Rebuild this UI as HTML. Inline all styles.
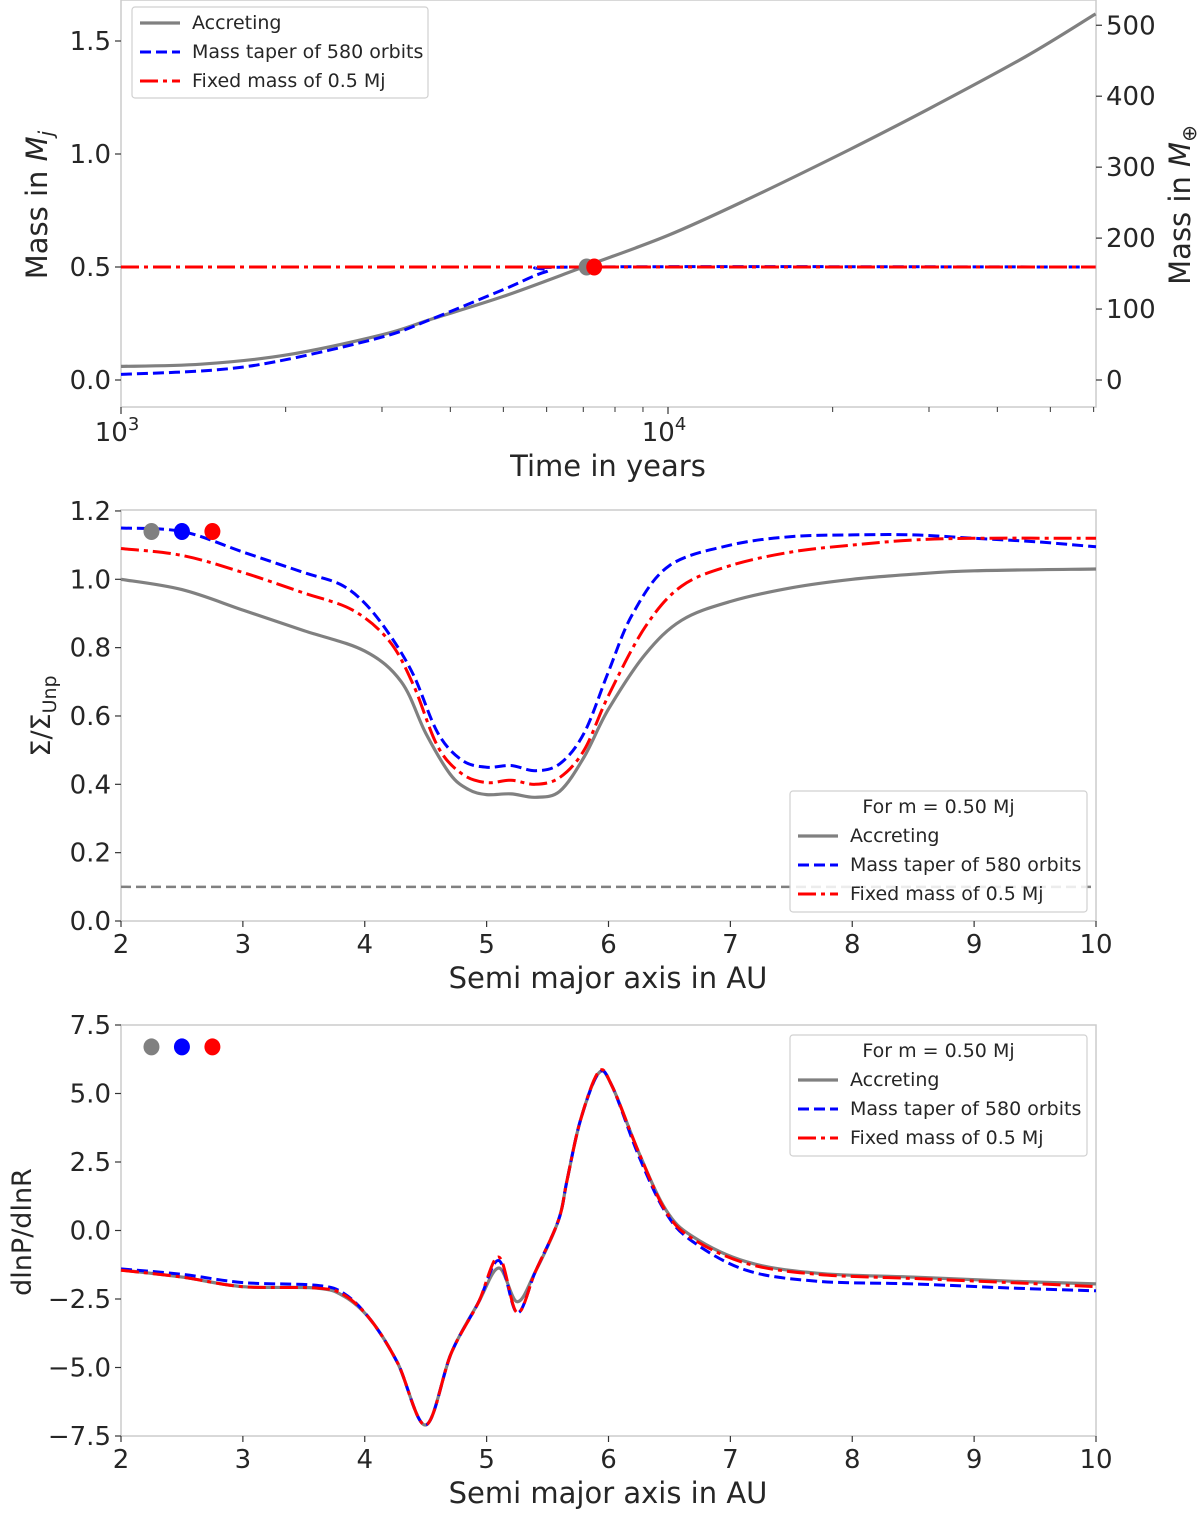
<!DOCTYPE html>
<html><head><meta charset="utf-8">
<style>
html,body{margin:0;padding:0;background:#fff;}
svg{display:block;font-family:"DejaVu Sans","Liberation Sans",sans-serif;}
</style></head>
<body>
<svg id="fig" width="1200" height="1516" viewBox="0 0 1200 1516" xmlns="http://www.w3.org/2000/svg"></svg>
<script>
// ---------- Panel 1 data (mass vs time) ----------
const p1TimeAcc = [1000,1400,2000,3000,3700,5000,7000,10000,14000,21500,30000,45000,60500];
const p1MassAcc = [0.06,0.07,0.11,0.20,0.27,0.37,0.50,0.64,0.80,1.02,1.20,1.43,1.62];
const p1TimeTaper = [1000,1500,2000,3000,3700,5000,6000,7000,60500];
const p1MassTaper = [0.025,0.045,0.09,0.19,0.27,0.40,0.48,0.50,0.50];
const p1TimeFixed = [1000,60500];
const p1MassFixed = [0.5,0.5];
const p1Dots = [[7100,0.5,'#808080'],[7330,0.5,'#ff0000']];
const p1YTicks = [0.0,0.5,1.0,1.5];
const p1YTickLabels = ['0.0','0.5','1.0','1.5'];
const p1RTicks = [0,100,200,300,400,500];

// ---------- Panel 2 data (surface density) ----------
const p2AAcc = [2,2.5,3,3.5,4,4.3,4.5,4.7,4.85,5,5.2,5.4,5.6,5.8,6,6.3,6.6,7,7.5,8,8.5,9,10];
const p2SAcc = [1.0,0.97,0.91,0.85,0.79,0.70,0.55,0.43,0.385,0.37,0.372,0.362,0.38,0.48,0.62,0.78,0.88,0.935,0.975,1.0,1.015,1.025,1.03];
const p2ATaper = [2,2.5,3,3.5,3.8,4,4.2,4.4,4.6,4.8,5,5.2,5.4,5.6,5.8,6,6.2,6.5,7,7.5,8,8.5,9,9.5,10];
const p2STaper = [1.15,1.14,1.08,1.02,0.985,0.93,0.84,0.72,0.55,0.47,0.45,0.455,0.44,0.46,0.55,0.73,0.90,1.04,1.10,1.125,1.13,1.13,1.12,1.11,1.095];
const p2AFixed = [2,2.5,3,3.5,3.9,4.2,4.4,4.6,4.8,5,5.2,5.4,5.6,5.8,6,6.3,6.6,7,7.5,8,8.5,9,10];
const p2SFixed = [1.09,1.07,1.02,0.96,0.91,0.82,0.69,0.51,0.43,0.405,0.412,0.40,0.42,0.50,0.66,0.86,0.98,1.04,1.08,1.10,1.115,1.12,1.12];
const p2Dots = [[2.25,1.14,'#808080'],[2.5,1.14,'#0000ff'],[2.75,1.14,'#ff0000']];
const p2YTicks = [0,0.2,0.4,0.6,0.8,1.0,1.2];
const p2YTickLabels = ['0.0','0.2','0.4','0.6','0.8','1.0','1.2'];
const p2Threshold = 0.1;

// ---------- Panel 3 data (pressure gradient) ----------
const p3AAcc = [2,2.5,3,3.6,3.83,4.05,4.27,4.5,4.71,4.93,5.1,5.25,5.4,5.59,5.66,5.77,5.92,6.03,6.25,6.47,6.69,7.13,7.71,8.5,9.3,10];
const p3GAcc = [-1.44,-1.7,-2.05,-2.1,-2.4,-3.27,-4.84,-7.1,-4.47,-2.65,-1.37,-2.6,-1.5,0.38,1.84,4.03,5.75,5.26,2.83,0.76,-0.22,-1.14,-1.56,-1.7,-1.85,-1.95];
const p3ATaper = [2,2.5,3,3.6,3.83,4.05,4.27,4.5,4.71,4.93,5.1,5.25,5.4,5.59,5.66,5.77,5.92,6.03,6.25,6.47,6.69,7.13,7.71,8.5,9.3,10];
const p3GTaper = [-1.4,-1.6,-1.9,-2.0,-2.3,-3.27,-4.84,-7.1,-4.47,-2.65,-1.1,-3.0,-1.5,0.38,1.84,4.03,5.75,5.26,2.7,0.65,-0.4,-1.45,-1.85,-1.95,-2.1,-2.2];
const p3AFixed = [2,2.5,3,3.6,3.83,4.05,4.27,4.5,4.71,4.93,5.1,5.25,5.4,5.59,5.66,5.77,5.92,6.03,6.25,6.47,6.69,7.13,7.71,8.5,9.3,10];
const p3GFixed = [-1.45,-1.7,-2.05,-2.1,-2.35,-3.27,-4.84,-7.1,-4.47,-2.65,-0.97,-3.0,-1.5,0.38,1.84,4.03,5.8,5.26,2.83,0.7,-0.3,-1.2,-1.6,-1.75,-1.9,-2.05];
const p3Dots = [[2.25,6.7,'#808080'],[2.5,6.7,'#0000ff'],[2.75,6.7,'#ff0000']];
const p3YTicks = [-7.5,-5,-2.5,0,2.5,5,7.5];
const p3YTickLabels = ['\u22127.5','\u22125.0','\u22122.5','0.0','2.5','5.0','7.5'];

const auTicks = [2,3,4,5,6,7,8,9,10];

const NS = 'http://www.w3.org/2000/svg';
const fig = document.getElementById('fig');
function mk(tag, attrs, parent, text){
  const e = document.createElementNS(NS, tag);
  for (const k in attrs) e.setAttribute(k, attrs[k]);
  if (text !== undefined) e.textContent = text;
  (parent||fig).appendChild(e);
  return e;
}
function spline(pts){
  let d = 'M' + pts[0][0].toFixed(1) + ',' + pts[0][1].toFixed(1);
  for (let i=0;i<pts.length-1;i++){
    const p0 = pts[i-1]||pts[i], p1=pts[i], p2=pts[i+1], p3=pts[i+2]||p2;
    const c1=[p1[0]+(p2[0]-p0[0])/6, p1[1]+(p2[1]-p0[1])/6];
    const c2=[p2[0]-(p3[0]-p1[0])/6, p2[1]-(p3[1]-p1[1])/6];
    d += 'C'+c1[0].toFixed(1)+','+c1[1].toFixed(1)+' '+c2[0].toFixed(1)+','+c2[1].toFixed(1)+' '+p2[0].toFixed(1)+','+p2[1].toFixed(1);
  }
  return d;
}
const STY = {
  acc:{stroke:'#808080','stroke-width':3.2,fill:'none'},
  taper:{stroke:'#0000ff','stroke-width':3,fill:'none','stroke-dasharray':'11,5'},
  fixed:{stroke:'#ff0000','stroke-width':3,fill:'none','stroke-dasharray':'18,5,4,5'}
};
function series(xs, ys, fx, fy, sty, name, g){
  const pts = xs.map((x,i)=>[fx(x), fy(ys[i])]);
  const p = mk('path', Object.assign({d:spline(pts)}, sty), g);
  
  
}
function frame(L,T,R,B,name){
  const r = mk('rect',{x:L,y:T,width:R-L,height:B-T,fill:'none',stroke:'#cccccc','stroke-width':1.5});
  
  
}
function ytick(L, y, label, name){
  mk('line',{x1:L-6,y1:y,x2:L,y2:y,stroke:'#333','stroke-width':1.2});
  const t = mk('text',{x:L-10,y:y+9,'text-anchor':'end','font-size':26,fill:'#262626'},fig,label);
  
  
}
function xtick(x, B, label, name, len){
  mk('line',{x1:x,y1:B,x2:x,y2:B+(len||6),stroke:'#333','stroke-width':1.2});
  if (label!==null){
    const t = mk('text',{x:x,y:B+32,'text-anchor':'middle','font-size':26,fill:'#262626'},fig,label);
    
    
  }
}
function legend(x,y,w,h,title,name){
  const g = mk('g',{});
  
  
  mk('rect',{x:x,y:y,width:w,height:h,rx:3,fill:'#fff','fill-opacity':0.85,stroke:'#d0d0d0','stroke-width':1.2},g);
  let yy = y + 22;
  if (title){
    const t = mk('text',{x:x+w/2,y:yy,'text-anchor':'middle','font-size':19,fill:'#262626'},g,title);
    
    
    yy += 29;
  }
  const ents = [['acc','Accreting'],['taper','Mass taper of 580 orbits'],['fixed','Fixed mass of 0.5 Mj']];
  ents.forEach(([k,lab])=>{
    const e = mk('g',{},g);
    
    
    mk('line',Object.assign({x1:x+8,y1:yy-6,x2:x+48,y2:yy-6},STY[k]),e);
    mk('text',{x:x+60,y:yy,'font-size':19,fill:'#262626'},e,lab);
    yy += 29;
  });
}
function dot(cx,cy,c,name){
  const d = mk('ellipse',{cx:cx,cy:cy,rx:8,ry:8.5,fill:c});
  
  
}

// ===== Panel 1 =====
(function(){
  const L=121,R=1096,T=0,B=407;
  const fx = t => L + Math.log10(t/1000)*547;
  const fy = m => 380 - m*226;
  const fyE = e => 380 - e*0.7095;
  frame(L,T,R,B,'panel1-axes');
  const g = mk('g',{});  
  series(p1TimeAcc,p1MassAcc,fx,fy,STY.acc,'accreting-mass-line',g);
  series(p1TimeTaper,p1MassTaper,fx,fy,STY.taper,'taper-mass-line',g);
  const fp = mk('line',Object.assign({x1:fx(p1TimeFixed[0]),y1:fy(p1MassFixed[0]),x2:fx(p1TimeFixed[1]),y2:fy(p1MassFixed[1])},STY.fixed),g);
   
  p1Dots.forEach((d,i)=>dot(fx(d[0]),fy(d[1]),d[2],'panel1-dot-'+i));
  p1YTicks.forEach((v,i)=>ytick(L,fy(v),p1YTickLabels[i],'panel1-ytick-label'));
  p1RTicks.forEach(v=>{
    const y=fyE(v);
    mk('line',{x1:R,y1:y,x2:R+6,y2:y,stroke:'#333','stroke-width':1.2});
    const t=mk('text',{x:R+10,y:y+9,'font-size':26,fill:'#262626'},fig,String(v));
     
  });
  [1000,10000].forEach(v=>{
    const x=fx(v);
    mk('line',{x1:x,y1:B,x2:x,y2:B+7,stroke:'#333','stroke-width':1.2});
    const t=mk('text',{x:x-4,y:B+34,'text-anchor':'middle','font-size':26,fill:'#262626'},fig);
     
    t.appendChild(document.createTextNode('10'));
    const s=document.createElementNS(NS,'tspan'); s.setAttribute('dy','-11'); s.setAttribute('font-size','18'); s.textContent=v===1000?'3':'4'; t.appendChild(s);
  });
  [2000,3000,4000,5000,6000,7000,8000,9000,20000,30000,40000,50000,60000].forEach(v=>{
    const x=fx(v); mk('line',{x1:x,y1:B,x2:x,y2:B+5,stroke:'#333','stroke-width':1});
  });
  let t=mk('text',{x:608,y:476,'text-anchor':'middle','font-size':29,fill:'#262626'},fig,'Time in years');
   
  t=mk('text',{transform:'translate(47,205) rotate(-90)','text-anchor':'middle','font-size':29,fill:'#262626'},fig);
   
  t.appendChild(document.createTextNode('Mass in '));
  let s=document.createElementNS(NS,'tspan'); s.setAttribute('font-style','italic'); s.textContent='M'; t.appendChild(s);
  s=document.createElementNS(NS,'tspan'); s.setAttribute('font-style','italic'); s.setAttribute('font-size','20'); s.setAttribute('dy','6'); s.textContent='j'; t.appendChild(s);
  t=mk('text',{transform:'translate(1190,205) rotate(-90)','text-anchor':'middle','font-size':29,fill:'#262626'},fig);
   
  t.appendChild(document.createTextNode('Mass in '));
  s=document.createElementNS(NS,'tspan'); s.setAttribute('font-style','italic'); s.textContent='M'; t.appendChild(s);
  s=document.createElementNS(NS,'tspan'); s.setAttribute('font-size','20'); s.setAttribute('dy','6'); s.textContent='\u2295'; t.appendChild(s);
  legend(132,7,296,91,null,'panel1-legend');
})();

// ===== Panel 2 =====
(function(){
  const L=121,R=1096,T=510,B=921;
  const fx = a => L + (a-2)*121.875;
  const fy = v => B - v*341.7;
  frame(L,T,R,B,'panel2-axes');
  const th = mk('line',{x1:L,y1:fy(p2Threshold),x2:R,y2:fy(p2Threshold),stroke:'#808080','stroke-width':2.5,'stroke-dasharray':'10,5'});
   
  const g = mk('g',{});  
  series(p2AAcc,p2SAcc,fx,fy,STY.acc,'accreting-density-line',g);
  series(p2ATaper,p2STaper,fx,fy,STY.taper,'taper-density-line',g);
  series(p2AFixed,p2SFixed,fx,fy,STY.fixed,'fixed-density-line',g);
  p2Dots.forEach((d,i)=>dot(fx(d[0]),fy(d[1]),d[2],'panel2-dot-'+i));
  p2YTicks.forEach((v,i)=>ytick(L,fy(v),p2YTickLabels[i],'panel2-ytick-label'));
  auTicks.forEach(v=>xtick(fx(v),B,String(v),'panel2-xtick-label'));
  let t=mk('text',{x:608,y:988,'text-anchor':'middle','font-size':29,fill:'#262626'},fig,'Semi major axis in AU');
   
  t=mk('text',{transform:'translate(50,716) rotate(-90)','text-anchor':'middle','font-size':27,fill:'#262626'},fig);
   
  t.appendChild(document.createTextNode('\u03a3/\u03a3'));
  const s=document.createElementNS(NS,'tspan'); s.setAttribute('font-size','19'); s.setAttribute('dy','6'); s.textContent='Unp'; t.appendChild(s);
  legend(790,791,297,121,'For m = 0.50 Mj','panel2-legend');
})();

// ===== Panel 3 =====
(function(){
  const L=121,R=1096,T=1025,B=1436;
  const fx = a => L + (a-2)*121.875;
  const fy = v => 1230.5 - v*27.4;
  frame(L,T,R,B,'panel3-axes');
  const g = mk('g',{});  
  series(p3AAcc,p3GAcc,fx,fy,STY.acc,'accreting-gradient-line',g);
  series(p3ATaper,p3GTaper,fx,fy,STY.taper,'taper-gradient-line',g);
  series(p3AFixed,p3GFixed,fx,fy,STY.fixed,'fixed-gradient-line',g);
  p3Dots.forEach((d,i)=>dot(fx(d[0]),fy(d[1]),d[2],'panel3-dot-'+i));
  p3YTicks.forEach((v,i)=>ytick(L,fy(v),p3YTickLabels[i],'panel3-ytick-label'));
  auTicks.forEach(v=>xtick(fx(v),B,String(v),'panel3-xtick-label'));
  let t=mk('text',{x:608,y:1503,'text-anchor':'middle','font-size':29,fill:'#262626'},fig,'Semi major axis in AU');
   
  t=mk('text',{transform:'translate(31,1232) rotate(-90)','text-anchor':'middle','font-size':27,fill:'#262626'},fig,'dlnP/dlnR');
   
  legend(790,1035,297,121,'For m = 0.50 Mj','panel3-legend');
})();
</script>
</body></html>
